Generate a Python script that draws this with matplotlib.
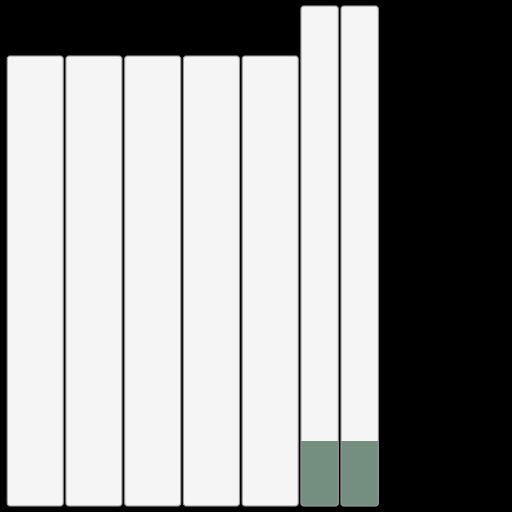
import matplotlib
matplotlib.use("Agg")
import matplotlib.pyplot as plt
from matplotlib.patches import FancyBboxPatch, Rectangle
import numpy as np

# Data: column widths (relative), totals and highlighted (green) part
categories = ["A", "B", "C", "D", "E", "F", "G"]
widths = [56, 56, 56, 56, 56, 37.3, 37.3]
totals = [90, 90, 90, 90, 90, 100, 100]
highlight = [0, 0, 0, 0, 0, 13, 13]

BASE = "#f5f5f5"
GREEN = "#748f7f"
EDGE = "#9a9a9a"
GAP = 2.75
START = 7.2

fig = plt.figure(figsize=(5.12, 5.12), dpi=100, facecolor="black")
ax = fig.add_axes([0, 0, 1, 1])
ax.set_facecolor("black")
ax.set_xlim(0, 512)
ax.set_ylim(-1.2, 101.2)
ax.axis("off")

# y units -> 5 px each, x units -> 1 px each
aspect = 0.2
lefts = START + np.concatenate([[0], np.cumsum(np.array(widths[:-1]) + GAP)])

for left, w, total, hi in zip(lefts, widths, totals, highlight):
    style = "round,pad=0,rounding_size=3"
    bar = FancyBboxPatch((left, 0), w, total, boxstyle=style,
                         mutation_aspect=aspect, facecolor=BASE,
                         edgecolor="none")
    ax.add_patch(bar)
    if hi > 0:
        green = FancyBboxPatch((left, 0), w, total, boxstyle=style,
                               mutation_aspect=aspect, facecolor=GREEN,
                               edgecolor="none")
        ax.add_patch(green)
        clip = Rectangle((left - 2, -2), w + 4, hi + 2, transform=ax.transData)
        green.set_clip_path(clip)
    outline = FancyBboxPatch((left, 0), w, total, boxstyle=style,
                             mutation_aspect=aspect, facecolor="none",
                             edgecolor=EDGE, linewidth=0.8)
    ax.add_patch(outline)

fig.savefig("out.png", dpi=100, facecolor="black")
